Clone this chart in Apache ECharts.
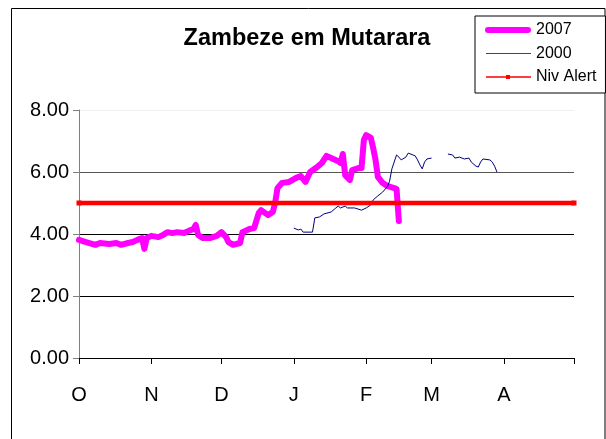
<!DOCTYPE html>
<html>
<head>
<meta charset="utf-8">
<script src="https://cdn.jsdelivr.net/npm/echarts@6/dist/echarts.min.js"></script>
<style>
html,body{margin:0;padding:0;background:#fff;}
#chart{width:606px;height:439px;}
</style>
</head>
<body>
<div id="chart"></div>
<script>
// x = days since 1 October
const monthTicks = [0, 31, 61, 92, 123, 151, 182, 212];
const monthLabels = ['O', 'N', 'D', 'J', 'F', 'M', 'A', ''];
const yTicks = [0, 2, 4, 6, 8];

const days2007 = [0,3,7,9,13,16,18,21,23,25,27,28,29,31,34,36,38,40,42,45,47,49,50,51,53,56,59,61,63,64,66,69,70,73,75,77,78,81,83,84,85,87,90,93,95,97,99,102,104,106,108,111,112,113,114,116,117,120,121,122,123,125,126,127,128,130,132,135,136,137];
const vals2007 = [3.81,3.74,3.65,3.71,3.68,3.71,3.65,3.71,3.74,3.81,3.87,3.52,3.87,3.94,3.90,3.97,4.06,4.03,4.06,4.03,4.10,4.16,4.29,3.97,3.87,3.87,3.94,4.06,3.90,3.74,3.65,3.71,4.06,4.16,4.19,4.68,4.77,4.61,4.71,5.00,5.48,5.65,5.68,5.81,5.87,5.68,6.00,6.16,6.29,6.52,6.45,6.35,6.29,6.58,5.90,5.74,6.06,6.13,6.13,7.03,7.19,7.10,6.77,6.39,5.84,5.65,5.55,5.48,5.45,4.42];

const days2000 = [92,94,95,96,100,101,103,105,108,110,111,112,114,115,118,121,123,125,126,128,130,132,133,134,136,137,138,140,141,143,144,145,146,147,148,149,151,152,158,160,161,163,165,167,168,170,171,172,173,176,177,178,179];
const vals2000 = [4.19,4.13,4.16,4.06,4.06,4.52,4.55,4.65,4.71,4.84,4.90,4.84,4.90,4.84,4.84,4.77,4.84,4.94,5.10,5.23,5.35,5.52,5.70,6.10,6.55,6.48,6.39,6.48,6.61,6.55,6.52,6.39,6.23,6.10,6.32,6.42,6.45,null,6.58,6.55,6.45,6.48,6.42,6.45,6.32,6.19,6.16,6.32,6.42,6.39,6.32,6.19,6.00];

const daysAlert = [0, 212];
const valsAlert = [5, 5];

const zip = (a, b) => a.map((d, i) => [d, b[i]]);
const FONT = '"Liberation Sans", Arial, sans-serif';

// legend icons (bounds 0..46 x 0..14 fixed by tiny corner dots)
const B = 'M0,0L0.01,0L0.01,0.01Z M46,14L45.99,14L45.99,13.99Z ';
const icon2007 = 'path://' + B + 'M3,4L43,4A3,3 0 0 1 43,10L3,10A3,3 0 0 1 3,4Z';
const icon2000 = 'path://' + B + 'M1,6.5L46,6.5L46,7.6L1,7.6Z';
const iconAlert = 'path://' + B + 'M1,6.2L46,6.2L46,7.8L1,7.8Z M21,5L25,5L25,9L21,9Z';

const chart = echarts.init(document.getElementById('chart'), null, {renderer: 'canvas'});
chart.setOption({
  backgroundColor: '#fff',
  animation: false,
  graphic: [
    {type: 'rect', shape: {x: 11.5, y: 8.5, width: 593.5, height: 440}, style: {fill: 'none', stroke: '#000', lineWidth: 1}, z: 0},
    {type: 'text', style: {text: 'Zambeze em Mutarara', x: 307, y: 39, align: 'center', verticalAlign: 'middle', fontSize: 23.5, fontWeight: 'bold', fontFamily: FONT, fill: '#000'}}
  ],
  grid: {left: 79, right: 32, top: 110, bottom: 81},
  legend: {
    orient: 'vertical', left: 475, top: 16,
    padding: [6, 9, 8, 10], itemGap: 7.5,
    itemWidth: 46, itemHeight: 14,
    borderColor: '#000', borderWidth: 1, backgroundColor: '#fff',
    textStyle: {fontSize: 16, fontFamily: FONT, color: '#000'},
    data: [
      {name: '2007', icon: icon2007, itemStyle: {color: '#ff00ff', borderWidth: 0}},
      {name: '2000', icon: icon2000, itemStyle: {color: '#3a3aa0', borderWidth: 0}},
      {name: 'Niv Alert', icon: iconAlert, itemStyle: {color: '#ff0000', borderWidth: 0}}
    ]
  },
  xAxis: {
    type: 'value', min: 0, max: 212,
    axisLine: {lineStyle: {color: '#000', width: 1}},
    axisTick: {show: true, length: 6, customValues: monthTicks, lineStyle: {color: '#000'}},
    axisLabel: {customValues: monthTicks, margin: 27, fontSize: 20, fontFamily: FONT, color: '#000',
      formatter: v => monthLabels[monthTicks.indexOf(v)] || ''},
    splitLine: {show: false}
  },
  yAxis: {
    type: 'value', min: 0, max: 8, interval: 2,
    axisLine: {show: true, lineStyle: {color: '#808080', width: 1}},
    axisTick: {show: true, length: 6, lineStyle: {color: '#808080'}},
    axisLabel: {margin: 10, fontSize: 20, fontFamily: FONT, color: '#000', formatter: v => v.toFixed(2)},
    splitLine: {show: true, lineStyle: {color: ['#000', '#000', '#000', '#555', '#f0f0f0'], width: 1}}
  },
  series: [
    {name: '2007', type: 'line', data: zip(days2007, vals2007), symbol: 'none',
      lineStyle: {color: '#ff00ff', width: 6, cap: 'round', join: 'round'}, itemStyle: {color: '#ff00ff'}},
    {name: '2000', type: 'line', data: zip(days2000, vals2000), symbol: 'none', connectNulls: false,
      lineStyle: {color: '#000080', width: 1}, itemStyle: {color: '#000080'}},
    {name: 'Niv Alert', type: 'line', data: zip(daysAlert, valsAlert), symbol: 'rect', symbolSize: 5, showSymbol: true,
      lineStyle: {color: '#ff0000', width: 4.5}, itemStyle: {color: '#ff0000'}}
  ]
});
</script>
</body>
</html>
